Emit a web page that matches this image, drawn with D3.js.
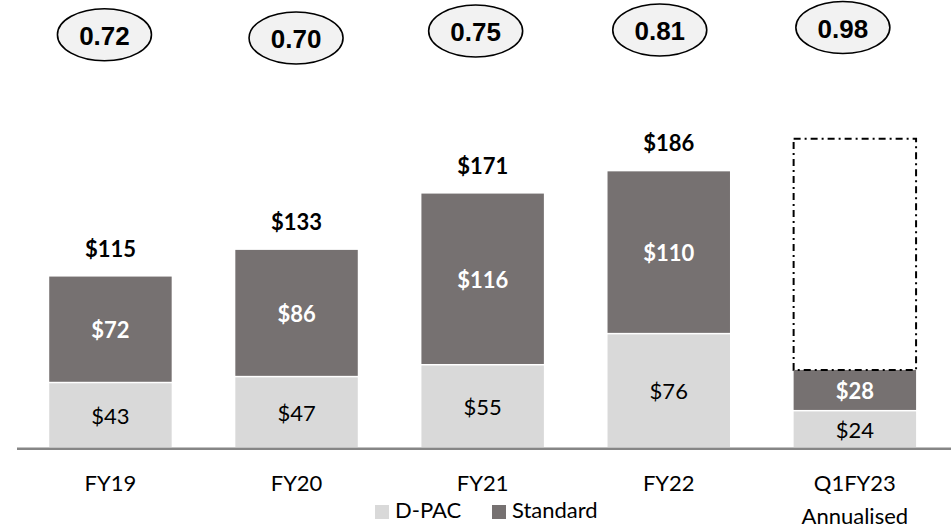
<!DOCTYPE html>
<html>
<head>
<meta charset="utf-8">
<script src="https://cdn.jsdelivr.net/npm/d3@7"></script>
<style>
  html, body { margin: 0; padding: 0; background: #ffffff; }
  svg { display: block; }
</style>
</head>
<body>
<svg id="chart" width="951" height="528"></svg>
<script>
// ---- data ----
const categories = ["FY19", "FY20", "FY21", "FY22", "Q1FY23"];
const categorySubLabels = ["", "", "", "", "Annualised"];
const dpacValues = [43, 47, 55, 76, 24];
const standardValues = [72, 86, 116, 110, 28];
const totalLabels = ["$115", "$133", "$171", "$186", ""];
const ratioValues = ["0.72", "0.70", "0.75", "0.81", "0.98"];
const annualisedOutline = [null, null, null, null, 208];
const seriesNames = ["D-PAC", "Standard"];

// ---- layout (not data) ----
const W = 951, H = 528;
const ellipseDx = [-6, -0.5, -7, -9, -12];
const ellipseCy = [34.7, 38, 31, 30, 27.5];
const colors = { dpac: "#d9d9d9", standard: "#767171" };
const labelFont = "Lato, 'Open Sans', sans-serif";

const svg = d3.select("#chart");

const x = d3.scaleBand()
  .domain(categories)
  .range([17.4, 947.9])
  .paddingInner(0.342)
  .paddingOuter(0.171);

const y = d3.scaleLinear()
  .domain([0, 200])
  .range([447, 447 - 200 * 1.482]);

const bw = x.bandwidth();
const cx = c => x(c) + bw / 2;

// axis baseline
const axis = d3.axisBottom(x).tickSize(0).tickFormat("");
const axisG = svg.append("g").attr("transform", "translate(0,448.7)").call(axis);
axisG.select(".domain").attr("d", "M17,0H951").attr("stroke", "#868686").attr("stroke-width", 2.5);

const rows = categories.map((c, i) => ({
  c, i, dpac: dpacValues[i], std: standardValues[i]
}));

// D-PAC bars
svg.append("g").selectAll("rect").data(rows).join("rect")
  .attr("x", d => x(d.c))
  .attr("width", bw)
  .attr("y", d => y(d.dpac))
  .attr("height", d => y(0) - y(d.dpac))
  .attr("fill", colors.dpac);

// Standard bars (white separator gap)
svg.append("g").selectAll("rect").data(rows).join("rect")
  .attr("x", d => x(d.c))
  .attr("width", bw)
  .attr("y", d => y(d.dpac + d.std))
  .attr("height", d => y(d.dpac) - y(d.dpac + d.std) - 1.5)
  .attr("fill", colors.standard);

// annualised dashed outline
svg.append("g").selectAll("rect").data(rows.filter(d => annualisedOutline[d.i] != null)).join("rect")
  .attr("x", d => x(d.c))
  .attr("width", bw)
  .attr("y", d => y(annualisedOutline[d.i]))
  .attr("height", d => y(d.dpac + d.std) - y(annualisedOutline[d.i]))
  .attr("fill", "none")
  .attr("stroke", "#000")
  .attr("stroke-width", 2)
  .attr("stroke-dasharray", "7,4,2,4");

// D-PAC labels
svg.append("g").selectAll("text").data(rows).join("text")
  .attr("x", d => cx(d.c))
  .attr("y", d => (y(0) + y(d.dpac)) / 2 + 8.5)
  .attr("text-anchor", "middle")
  .attr("font-family", labelFont)
  .attr("font-size", 22)
  .attr("fill", "#000")
  .text(d => "$" + d.dpac);

// Standard labels
svg.append("g").selectAll("text").data(rows).join("text")
  .attr("x", d => cx(d.c))
  .attr("y", d => (y(d.dpac) + y(d.dpac + d.std)) / 2 + 8.5)
  .attr("text-anchor", "middle")
  .attr("font-family", labelFont)
  .attr("font-weight", "bold")
  .attr("font-size", 22)
  .attr("fill", "#ffffff")
  .text(d => "$" + d.std);

// totals
svg.append("g").selectAll("text").data(rows.filter(d => totalLabels[d.i])).join("text")
  .attr("x", d => cx(d.c))
  .attr("y", d => y(d.dpac + d.std) - 20)
  .attr("text-anchor", "middle")
  .attr("font-family", labelFont)
  .attr("font-weight", "bold")
  .attr("font-size", 22)
  .attr("fill", "#000")
  .text(d => totalLabels[d.i]);

// category labels
const catG = svg.append("g").selectAll("text").data(rows).join("text")
  .attr("text-anchor", "middle")
  .attr("font-family", labelFont)
  .attr("font-size", 22)
  .attr("fill", "#000");
catG.append("tspan").attr("x", d => cx(d.c)).attr("y", 491).text(d => d.c);
catG.filter(d => categorySubLabels[d.i])
  .append("tspan").attr("x", d => cx(d.c)).attr("y", 524).text(d => categorySubLabels[d.i]);

// ratio ellipses
const eg = svg.append("g").selectAll("g").data(rows).join("g")
  .attr("transform", d => `translate(${cx(d.c) + ellipseDx[d.i]},${ellipseCy[d.i]})`);
eg.append("ellipse").attr("rx", 47).attr("ry", 26)
  .attr("fill", "#f2f2f2").attr("stroke", "#000").attr("stroke-width", 1.6);
eg.append("text")
  .attr("text-anchor", "middle")
  .attr("y", 10)
  .attr("font-family", "'Liberation Sans', Arial, sans-serif")
  .attr("font-weight", "bold")
  .attr("font-size", 26)
  .attr("fill", "#000")
  .text(d => ratioValues[d.i]);

// legend
const legendItems = [
  { name: seriesNames[0], color: colors.dpac, x: 375 },
  { name: seriesNames[1], color: colors.standard, x: 492 }
];
const lg = svg.append("g").selectAll("g").data(legendItems).join("g")
  .attr("transform", d => `translate(${d.x},0)`);
lg.append("rect").attr("x", 0).attr("y", 505).attr("width", 14).attr("height", 14).attr("fill", d => d.color);
lg.append("text").attr("x", 20).attr("y", 518)
  .attr("font-family", labelFont).attr("font-size", 22).attr("fill", "#000")
  .text(d => d.name);
</script>
</body>
</html>
